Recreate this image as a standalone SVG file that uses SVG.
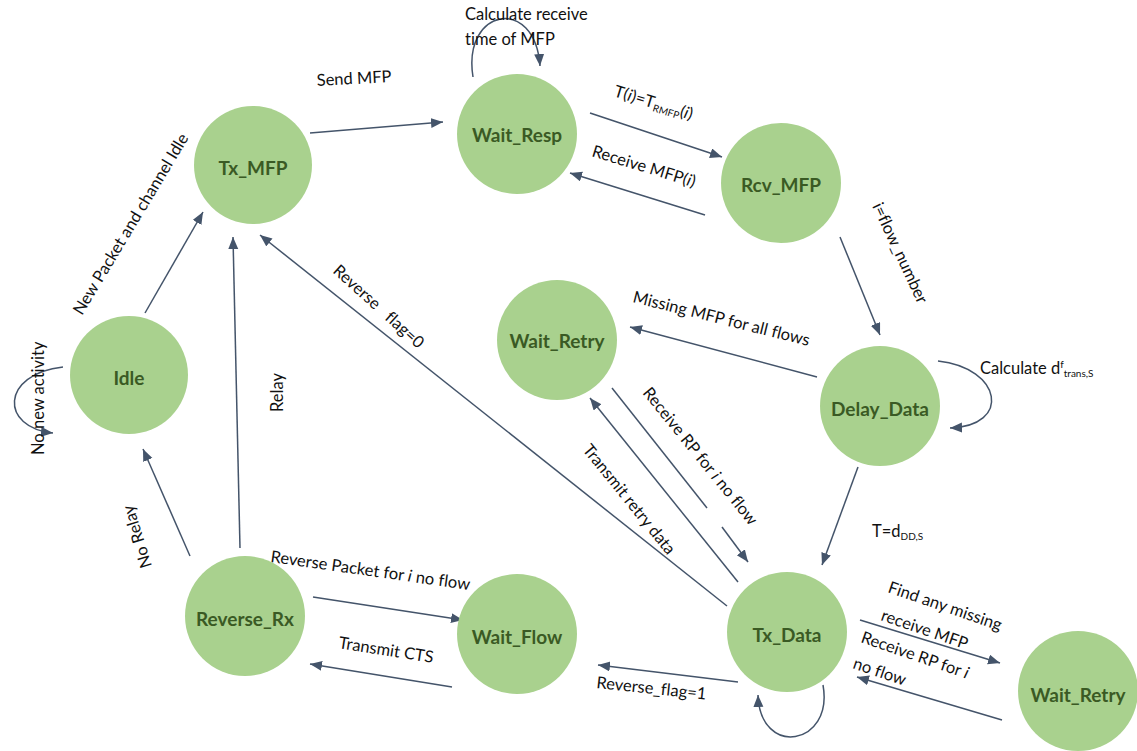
<svg xmlns="http://www.w3.org/2000/svg" width="1137" height="751" viewBox="0 0 1137 751">
  <style>
    .state circle { fill: #a9d18e; }
    .state text { font-family: Lato, "Liberation Sans", sans-serif; font-weight: bold; font-size: 19px; fill: #3a5a24; text-anchor: middle; dominant-baseline: central; }
    .edge { stroke: #44546a; stroke-width: 1.5; fill: none; }
    .lbl { font-family: Lato, "Liberation Sans", sans-serif; font-size: 16.5px; fill: #111; font-variant-ligatures: none; }
    .sub { font-size: 10px; }
  </style>
  <defs>
    <marker id="arrow" markerUnits="userSpaceOnUse" markerWidth="13" markerHeight="11" refX="12" refY="5" orient="auto">
      <path d="M0,0 L12,5 L0,10 z" fill="#44546a"/>
    </marker>
  </defs>
  <rect width="1137" height="751" fill="#fff"/>

  <!-- connectors -->
  <g id="connectors" marker-end="url(#arrow)">
    <path class="edge" d="M310,133 L443,122"/>
    <path class="edge" d="M473,77 C462,8 535,-5 540,66"/>
    <path class="edge" d="M590,113 L722,157"/>
    <path class="edge" d="M705,215 L570,173"/>
    <path class="edge" d="M840,237 L880,335"/>
    <path class="edge" d="M938,361 C1002,368 1012,426 950,428"/>
    <path class="edge" d="M817,377 L630,327"/>
    <path class="edge" d="M858,467 L822,565"/>
    <path class="edge" d="M612,388 L707,508" marker-end="none"/>
    <path class="edge" d="M722,527 L748,562"/>
    <path class="edge" d="M738,582 L590,398"/>
    <path class="edge" d="M727,606 L260,235"/>
    <path class="edge" d="M145,313 L203,212"/>
    <path class="edge" d="M63,367 C0,374 0,428 53,433"/>
    <path class="edge" d="M190,556 L143,449"/>
    <path class="edge" d="M240,548 L233,237"/>
    <path class="edge" d="M313,597 L463,620"/>
    <path class="edge" d="M452,687 L310,664"/>
    <path class="edge" d="M738,682 L598,665"/>
    <path class="edge" d="M823,685 C834,746 760,758 758,695"/>
    <path class="edge" d="M860,620 L1000,663"/>
    <path class="edge" d="M1002,720 L857,677"/>
  </g>

  <!-- transition labels -->
  <g id="labels">
    <text class="lbl" transform="translate(317,86) rotate(-3)">Send MFP</text>
    <text class="lbl" x="465" y="20">Calculate receive</text>
    <text class="lbl" x="465" y="45">time of MFP</text>
    <text class="lbl" transform="translate(613,96) rotate(17)">T(<tspan font-style="italic">i</tspan>)=T<tspan class="sub" dy="3">RMFP</tspan><tspan dy="-3">(</tspan><tspan font-style="italic">i</tspan>)</text>
    <text class="lbl" transform="translate(591,156) rotate(17)">Receive MFP(<tspan font-style="italic">i</tspan>)</text>
    <text class="lbl" transform="translate(872,206) rotate(65)">i=flow_number</text>
    <text class="lbl" x="980" y="374">Calculate d<tspan class="sub" dy="-6">f</tspan><tspan class="sub" dy="9">trans,S</tspan></text>
    <text class="lbl" transform="translate(632,302) rotate(14)">Missing MFP for all flows</text>
    <text class="lbl" x="872" y="537">T=d<tspan class="sub" dy="3">DD,S</tspan></text>
    <text class="lbl" transform="translate(642,393) rotate(51)">Receive RP for <tspan font-style="italic">i</tspan> no flow</text>
    <text class="lbl" transform="translate(582,450) rotate(51)">Transmit retry data</text>
    <text class="lbl" xml:space="preserve" transform="translate(332,272) rotate(42)">Reverse   flag=0</text>
    <text class="lbl" transform="translate(82,316) rotate(-59)">New Packet and channel Idle</text>
    <text class="lbl" transform="translate(44,455) rotate(-90)">No new activity</text>
    <text class="lbl" transform="translate(152,566) rotate(-107)">No Relay</text>
    <text class="lbl" transform="translate(283,412) rotate(-90)">Relay</text>
    <text class="lbl" transform="translate(270,562) rotate(8)">Reverse Packet for <tspan font-style="italic">i</tspan> no flow</text>
    <text class="lbl" transform="translate(338,648) rotate(9)">Transmit CTS</text>
    <text class="lbl" transform="translate(596,688) rotate(6)">Reverse_flag=1</text>
    <text class="lbl" transform="translate(887,592) rotate(19)">Find any missing</text>
    <text class="lbl" transform="translate(880,620) rotate(19)">receive MFP</text>
    <text class="lbl" transform="translate(860,642) rotate(19)">Receive RP for <tspan font-style="italic">i</tspan></text>
    <text class="lbl" transform="translate(852,668) rotate(19)">no flow</text>
  </g>

  <!-- states -->
  <g id="tx_mfp" class="state"><circle cx="253" cy="165" r="59"/><text x="253" y="167">Tx_MFP</text></g>
  <g id="wait_resp" class="state"><circle cx="517" cy="134" r="60"/><text x="517" y="134">Wait_Resp</text></g>
  <g id="rcv_mfp" class="state"><circle cx="781" cy="183" r="60"/><text x="781" y="184">Rcv_MFP</text></g>
  <g id="wait_retry_1" class="state"><circle cx="557" cy="340" r="60"/><text x="557" y="340">Wait_Retry</text></g>
  <g id="delay_data" class="state"><circle cx="880" cy="406" r="60"/><text x="880" y="408">Delay_Data</text></g>
  <g id="idle" class="state"><circle cx="129" cy="375" r="59"/><text x="129" y="377">Idle</text></g>
  <g id="reverse_rx" class="state"><circle cx="245" cy="616" r="60"/><text x="245" y="618">Reverse_Rx</text></g>
  <g id="wait_flow" class="state"><circle cx="517" cy="634" r="60"/><text x="517" y="636">Wait_Flow</text></g>
  <g id="tx_data" class="state"><circle cx="787" cy="632" r="60"/><text x="787" y="634">Tx_Data</text></g>
  <g id="wait_retry_2" class="state"><circle cx="1078" cy="691" r="60"/><text x="1078" y="694">Wait_Retry</text></g>
</svg>
